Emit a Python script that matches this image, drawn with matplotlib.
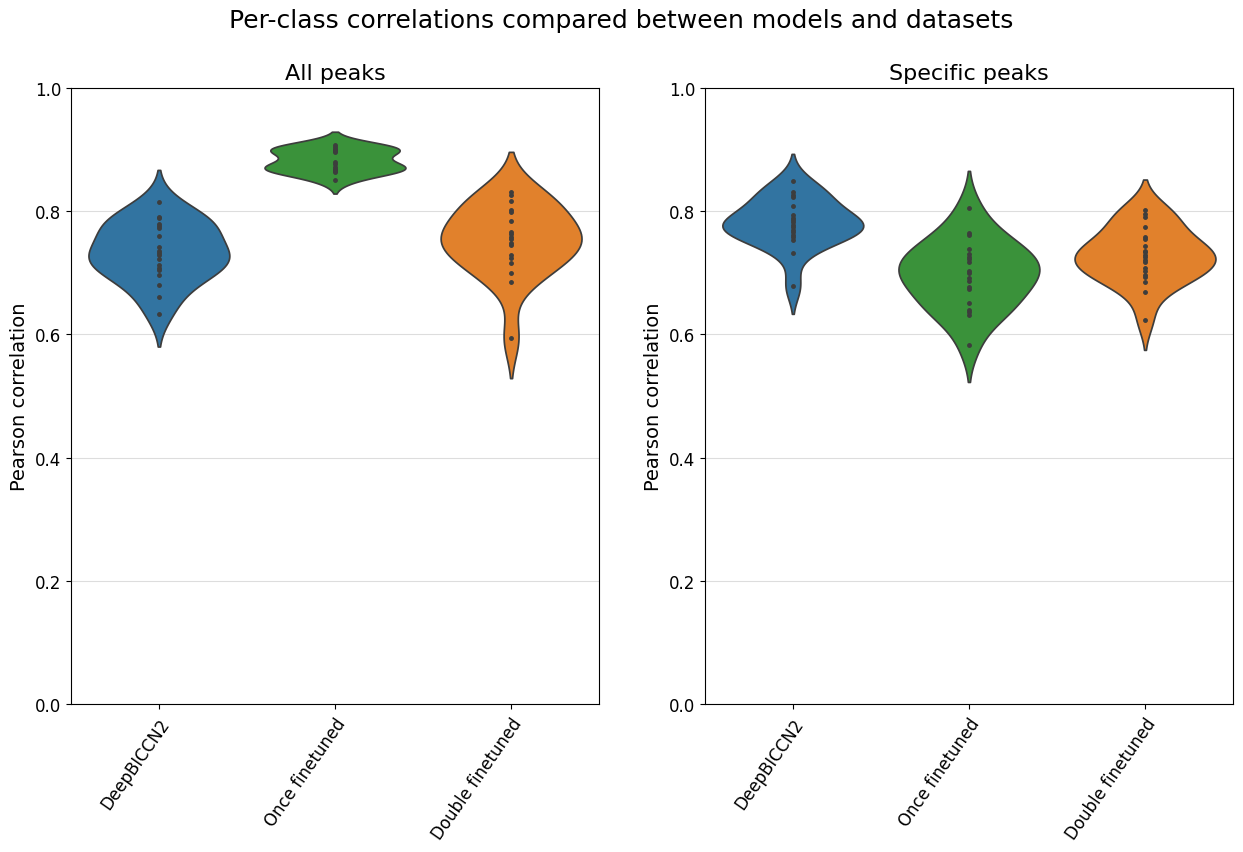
import matplotlib
matplotlib.use("Agg")
import matplotlib.pyplot as plt
import pandas as pd
import seaborn as sns

MODELS = ["DeepBICCN2", "Once finetuned", "Double finetuned"]
COLORS = ["#1f77b4", "#2ca02c", "#ff7f0e"]

# per-class Pearson correlations, all peaks
ALL_DEEPBICCN2 = [0.814, 0.791, 0.788, 0.779, 0.775, 0.773, 0.759, 0.742, 0.735, 0.732,
                  0.729, 0.722, 0.712, 0.708, 0.705, 0.696, 0.680, 0.661, 0.633]
ALL_ONCE = [0.907, 0.904, 0.901, 0.899, 0.897, 0.895, 0.880, 0.876, 0.872, 0.869,
            0.867, 0.865, 0.863, 0.850]
ALL_DOUBLE = [0.831, 0.826, 0.816, 0.802, 0.799, 0.784, 0.766, 0.762, 0.758, 0.754,
              0.748, 0.745, 0.728, 0.724, 0.715, 0.699, 0.685, 0.594]

# per-class Pearson correlations, specific peaks
SPEC_DEEPBICCN2 = [0.848, 0.831, 0.826, 0.823, 0.809, 0.793, 0.789, 0.786, 0.782, 0.778,
                   0.774, 0.770, 0.766, 0.761, 0.758, 0.753, 0.732, 0.678]
SPEC_ONCE = [0.805, 0.765, 0.761, 0.739, 0.731, 0.726, 0.722, 0.718, 0.703, 0.699,
             0.692, 0.687, 0.677, 0.674, 0.651, 0.640, 0.636, 0.631, 0.583]
SPEC_DOUBLE = [0.802, 0.796, 0.791, 0.774, 0.758, 0.755, 0.744, 0.736, 0.733, 0.729,
               0.725, 0.721, 0.717, 0.707, 0.703, 0.696, 0.693, 0.685, 0.668, 0.624]


def to_frame(groups):
    rows = []
    for name, vals in zip(MODELS, groups):
        rows += [{"model": name, "corr": v} for v in vals]
    return pd.DataFrame(rows)


panels = [
    ("All peaks", to_frame([ALL_DEEPBICCN2, ALL_ONCE, ALL_DOUBLE])),
    ("Specific peaks", to_frame([SPEC_DEEPBICCN2, SPEC_ONCE, SPEC_DOUBLE])),
]

fig, axes = plt.subplots(1, 2, figsize=(12.43, 8.53), dpi=100)
fig.subplots_adjust(left=0.057, right=0.992, top=0.896, bottom=0.173, wspace=0.2)

for ax, (title, df) in zip(axes, panels):
    sns.violinplot(data=df, x="model", y="corr", hue="model", order=MODELS,
                   hue_order=MODELS, palette=COLORS, inner="point",
                   density_norm="width", legend=False, ax=ax)
    ax.set_ylim(0, 1.0)
    ax.set_title(title, fontsize=16)
    ax.set_xlabel("")
    ax.set_ylabel("Pearson correlation", fontsize=14)
    ax.tick_params(axis="both", labelsize=12)
    ax.set_xticks(range(len(MODELS)))
    ax.set_xticklabels(MODELS, rotation=55, ha="right", rotation_mode="anchor")
    ax.grid(axis="y", color="#dddddd", linewidth=0.8)
    ax.set_axisbelow(True)

fig.suptitle("Per-class correlations compared between models and datasets", fontsize=18, y=0.99)

fig.savefig("out.png", dpi=100)
